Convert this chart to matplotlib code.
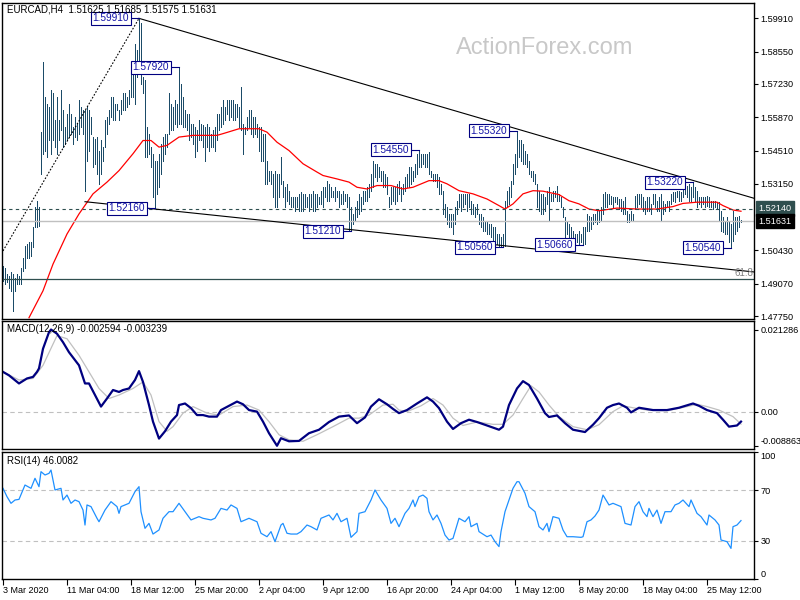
"""EURCAD H4 chart with MACD and RSI panels, MT4 style."""
import matplotlib
matplotlib.use("Agg")
import matplotlib.pyplot as plt
from matplotlib import transforms

plt.rcParams["font.family"] = ["Liberation Sans", "DejaVu Sans"]

COLORS = {
    "bar": "#1B4B68",
    "ma": "#FF0000",
    "label_edge": "#000080",
    "label_text": "#1414A8",
    "slate": "#2F4F4F",
    "silver": "#C0C0C0",
    "macd": "#000080",
    "rsi": "#1E90FF",
    "watermark": "#C8C8C8",
}

# ---- price bars, index 0 = 3 Mar 2020 20:00, one bar per 4 hours ----
highs = [
    1.4980, 1.4973, 1.4946, 1.4939, 1.4953, 1.4946, 1.4932, 1.4946, 1.4939, 1.4973,
    1.5014, 1.5062, 1.5069, 1.5076, 1.5076, 1.5137, 1.5219, 1.5246, 1.5219, 1.5526,
    1.5813, 1.5670, 1.5643, 1.5629, 1.5697, 1.5684, 1.5574, 1.5670, 1.5574, 1.5697,
    1.5615, 1.5547, 1.5602, 1.5643, 1.5602, 1.5547, 1.5588, 1.5561, 1.5656, 1.5629,
    1.5615, 1.5615, 1.5629, 1.5615, 1.5588, 1.5506, 1.5499, 1.5506, 1.5451, 1.5492,
    1.5465, 1.5574, 1.5588, 1.5615, 1.5670, 1.5670, 1.5643, 1.5643, 1.5615, 1.5656,
    1.5684, 1.5684, 1.5670, 1.5697, 1.5806, 1.5793, 1.5888, 1.5861, 1.5991, 1.5970,
    1.5752, 1.5738, 1.5547, 1.5520, 1.5465, 1.5438, 1.5410, 1.5410, 1.5438, 1.5479,
    1.5506, 1.5520, 1.5520, 1.5684, 1.5643, 1.5629, 1.5656, 1.5643, 1.5792, 1.5724,
    1.5670, 1.5615, 1.5602, 1.5602, 1.5561, 1.5561, 1.5547, 1.5533, 1.5574, 1.5561,
    1.5554, 1.5547, 1.5561, 1.5547, 1.5520, 1.5533, 1.5547, 1.5602, 1.5602, 1.5629,
    1.5656, 1.5629, 1.5656, 1.5656, 1.5656, 1.5656, 1.5643, 1.5643, 1.5629, 1.5711,
    1.5561, 1.5547, 1.5588, 1.5615, 1.5615, 1.5588, 1.5588, 1.5561, 1.5547, 1.5547,
    1.5520, 1.5520, 1.5410, 1.5369, 1.5369, 1.5356, 1.5369, 1.5356, 1.5356, 1.5424,
    1.5328, 1.5301, 1.5315, 1.5287, 1.5260, 1.5260, 1.5260, 1.5260, 1.5274, 1.5281,
    1.5274, 1.5274, 1.5260, 1.5274, 1.5274, 1.5287, 1.5274, 1.5274, 1.5260, 1.5287,
    1.5301, 1.5301, 1.5328, 1.5315, 1.5301, 1.5287, 1.5301, 1.5287, 1.5287, 1.5274,
    1.5287, 1.5274, 1.5274, 1.5260, 1.5219, 1.5192, 1.5219, 1.5246, 1.5274, 1.5260,
    1.5287, 1.5287, 1.5301, 1.5315, 1.5356, 1.5410, 1.5397, 1.5397, 1.5383, 1.5369,
    1.5369, 1.5356, 1.5342, 1.5260, 1.5301, 1.5301, 1.5301, 1.5315, 1.5328, 1.5301,
    1.5315, 1.5342, 1.5356, 1.5383, 1.5383, 1.5369, 1.5397, 1.5438, 1.5455, 1.5438,
    1.5438, 1.5438, 1.5438, 1.5445, 1.5369, 1.5356, 1.5356, 1.5356, 1.5342, 1.5315,
    1.5287, 1.5233, 1.5219, 1.5192, 1.5192, 1.5192, 1.5219, 1.5246, 1.5274, 1.5274,
    1.5274, 1.5274, 1.5274, 1.5274, 1.5246, 1.5233, 1.5219, 1.5233, 1.5192, 1.5192,
    1.5178, 1.5164, 1.5164, 1.5151, 1.5151, 1.5137, 1.5137, 1.5110, 1.5110, 1.5096,
    1.5110, 1.5246, 1.5287, 1.5301, 1.5328, 1.5397, 1.5438, 1.5532, 1.5492, 1.5492,
    1.5479, 1.5451, 1.5438, 1.5410, 1.5369, 1.5369, 1.5356, 1.5315, 1.5287, 1.5274,
    1.5274, 1.5260, 1.5287, 1.5301, 1.5274, 1.5287, 1.5287, 1.5308, 1.5274, 1.5260,
    1.5219, 1.5178, 1.5164, 1.5151, 1.5137, 1.5123, 1.5110, 1.5110, 1.5123, 1.5110,
    1.5137, 1.5137, 1.5192, 1.5185, 1.5178, 1.5192, 1.5192, 1.5205, 1.5205, 1.5219,
    1.5274, 1.5281, 1.5274, 1.5274, 1.5267, 1.5260, 1.5260, 1.5260, 1.5253, 1.5253,
    1.5246, 1.5260, 1.5205, 1.5192, 1.5205, 1.5192, 1.5267, 1.5274, 1.5274, 1.5274,
    1.5260, 1.5246, 1.5260, 1.5260, 1.5233, 1.5274, 1.5274, 1.5246, 1.5260, 1.5274,
    1.5246, 1.5233, 1.5246, 1.5246, 1.5274, 1.5281, 1.5281, 1.5287, 1.5287, 1.5281,
    1.5294, 1.5315, 1.5308, 1.5315, 1.5301, 1.5322, 1.5301, 1.5287, 1.5260, 1.5260,
    1.5260, 1.5260, 1.5267, 1.5260, 1.5246, 1.5246, 1.5246, 1.5240, 1.5240, 1.5205,
    1.5178, 1.5164, 1.5178, 1.5164, 1.5151, 1.5205, 1.5178, 1.5178, 1.5185, 1.51685,
]
lows = [
    1.4919, 1.4905, 1.4912, 1.4891, 1.4878, 1.4796, 1.4878, 1.4905, 1.4905, 1.4905,
    1.4959, 1.4973, 1.5014, 1.5014, 1.5021, 1.5055, 1.5137, 1.5137, 1.5144, 1.5356,
    1.5438, 1.5451, 1.5424, 1.5492, 1.5438, 1.5492, 1.5465, 1.5438, 1.5492, 1.5533,
    1.5465, 1.5479, 1.5492, 1.5506, 1.5520, 1.5479, 1.5506, 1.5492, 1.5520, 1.5547,
    1.5520, 1.5287, 1.5410, 1.5451, 1.5520, 1.5383, 1.5397, 1.5356, 1.5315, 1.5356,
    1.5410, 1.5465, 1.5520, 1.5561, 1.5588, 1.5574, 1.5574, 1.5615, 1.5574, 1.5602,
    1.5615, 1.5615, 1.5629, 1.5643, 1.5670, 1.5670, 1.5643, 1.5752, 1.5779, 1.5724,
    1.5684, 1.5424, 1.5424, 1.5438, 1.5383, 1.5260, 1.5216, 1.5274, 1.5301, 1.5356,
    1.5410, 1.5438, 1.5465, 1.5520, 1.5533, 1.5533, 1.5561, 1.5547, 1.5561, 1.5561,
    1.5547, 1.5547, 1.5533, 1.5492, 1.5506, 1.5479, 1.5424, 1.5451, 1.5492, 1.5492,
    1.5465, 1.5410, 1.5465, 1.5451, 1.5465, 1.5465, 1.5451, 1.5492, 1.5533, 1.5547,
    1.5561, 1.5574, 1.5602, 1.5574, 1.5588, 1.5574, 1.5574, 1.5588, 1.5547, 1.5533,
    1.5438, 1.5520, 1.5533, 1.5547, 1.5520, 1.5506, 1.5520, 1.5506, 1.5451, 1.5410,
    1.5410, 1.5315, 1.5315, 1.5328, 1.5315, 1.5260, 1.5219, 1.5219, 1.5260, 1.5315,
    1.5260, 1.5219, 1.5246, 1.5233, 1.5219, 1.5219, 1.5205, 1.5219, 1.5205, 1.5205,
    1.5205, 1.5219, 1.5219, 1.5205, 1.5219, 1.5205, 1.5205, 1.5219, 1.5233, 1.5233,
    1.5219, 1.5260, 1.5246, 1.5246, 1.5260, 1.5260, 1.5246, 1.5260, 1.5219, 1.5233,
    1.5233, 1.5246, 1.5219, 1.5123, 1.5121, 1.5151, 1.5164, 1.5178, 1.5192, 1.5205,
    1.5233, 1.5246, 1.5246, 1.5260, 1.5287, 1.5301, 1.5342, 1.5328, 1.5342, 1.5328,
    1.5301, 1.5301, 1.5274, 1.5219, 1.5233, 1.5246, 1.5233, 1.5246, 1.5274, 1.5246,
    1.5274, 1.5287, 1.5301, 1.5301, 1.5315, 1.5328, 1.5342, 1.5356, 1.5383, 1.5383,
    1.5397, 1.5383, 1.5383, 1.5356, 1.5342, 1.5328, 1.5328, 1.5301, 1.5274, 1.5274,
    1.5192, 1.5178, 1.5151, 1.5137, 1.5137, 1.5110, 1.5151, 1.5192, 1.5219, 1.5205,
    1.5219, 1.5233, 1.5205, 1.5219, 1.5192, 1.5192, 1.5178, 1.5192, 1.5151, 1.5137,
    1.5123, 1.5123, 1.5110, 1.5110, 1.5096, 1.5082, 1.5069, 1.5069, 1.5060, 1.5060,
    1.5056, 1.5060, 1.5219, 1.5233, 1.5260, 1.5315, 1.5356, 1.5383, 1.5424, 1.5410,
    1.5397, 1.5397, 1.5383, 1.5356, 1.5342, 1.5328, 1.5315, 1.5219, 1.5205, 1.5192,
    1.5192, 1.5205, 1.5233, 1.5164, 1.5246, 1.5246, 1.5260, 1.5246, 1.5246, 1.5219,
    1.5178, 1.5082, 1.5110, 1.5096, 1.5082, 1.5082, 1.5069, 1.5076, 1.5069, 1.5076,
    1.5066, 1.5069, 1.5123, 1.5123, 1.5130, 1.5151, 1.5158, 1.5151, 1.5158, 1.5164,
    1.5192, 1.5219, 1.5219, 1.5233, 1.5233, 1.5219, 1.5240, 1.5233, 1.5212, 1.5205,
    1.5192, 1.5192, 1.5158, 1.5158, 1.5164, 1.5164, 1.5212, 1.5219, 1.5233, 1.5219,
    1.5205, 1.5192, 1.5205, 1.5205, 1.5192, 1.5233, 1.5219, 1.5205, 1.5205, 1.5164,
    1.5192, 1.5205, 1.5219, 1.5205, 1.5233, 1.5246, 1.5240, 1.5260, 1.5246, 1.5246,
    1.5260, 1.5274, 1.5260, 1.5246, 1.5246, 1.5260, 1.5246, 1.5219, 1.5233, 1.5219,
    1.5233, 1.5219, 1.5226, 1.5219, 1.5219, 1.5212, 1.5219, 1.5212, 1.5164, 1.5123,
    1.5117, 1.5110, 1.5110, 1.5076, 1.5054, 1.5082, 1.5110, 1.5123, 1.5137, 1.51575,
]

# red moving average (bar index, price)
ma_idx = [13, 20, 25, 32, 38, 45, 52, 58, 65, 70, 74, 78, 82, 88, 95, 107, 110, 118,
          128, 132, 137, 143, 150, 157, 160, 167, 173, 177, 182, 187, 194, 200, 205,
          213, 218, 222, 228, 235, 242, 248, 251, 255, 260, 265, 270, 278, 283, 288,
          293, 298, 307, 317, 327, 335, 340, 347, 357, 360, 365, 369]
ma_val = [1.4768, 1.4878, 1.4987, 1.5110, 1.5192, 1.5274, 1.5322, 1.5369, 1.5438,
          1.5492, 1.5492, 1.5465, 1.5472, 1.5506, 1.5513, 1.5513, 1.5520, 1.5540,
          1.5540, 1.5526, 1.5485, 1.5451, 1.5397, 1.5363, 1.5349, 1.5335, 1.5322,
          1.5301, 1.5294, 1.5308, 1.5308, 1.5294, 1.5301, 1.5328, 1.5328, 1.5315,
          1.5287, 1.5274, 1.5253, 1.5226, 1.5212, 1.5233, 1.5274, 1.5287, 1.5285,
          1.5271, 1.5246, 1.5233, 1.5212, 1.5205, 1.5216, 1.5212, 1.5212, 1.5222,
          1.5235, 1.5240, 1.5240, 1.5226, 1.5208, 1.5203]

# labelled swing highs / lows (price, bar index)
swing_prices = [1.59910, 1.57920, 1.52160, 1.51210, 1.54550, 1.55320,
                1.50560, 1.50660, 1.53220, 1.50540]
swing_bars = [68, 88, 76, 174, 208, 257, 250, 290, 345, 364]

# MACD(12,26,9) main and signal
macd_idx = [0, 3, 8, 12, 15, 17, 18, 20, 23, 24, 27, 30, 33, 38, 41, 43, 46, 49, 52,
            55, 58, 60, 63, 66, 68, 70, 73, 75, 78, 81, 84, 87, 88, 91, 94, 97, 100,
            103, 107, 109, 113, 117, 120, 123, 127, 130, 133, 137, 139, 143, 148, 153,
            158, 163, 168, 173, 177, 181, 184, 188, 192, 195, 198, 202, 207, 212, 215,
            218, 222, 225, 229, 233, 237, 242, 248, 250, 253, 257, 260, 263, 267, 271,
            273, 277, 281, 285, 291, 295, 298, 302, 305, 308, 312, 314, 318, 325, 332,
            338, 345, 348, 352, 357, 360, 363, 367, 369]
macd_val = [0.0103, 0.0094, 0.0073, 0.0086, 0.0090, 0.0103, 0.0112, 0.0163, 0.0206,
            0.021286, 0.0202, 0.0180, 0.0154, 0.0120, 0.0073, 0.0073, 0.0043, 0.0013,
            0.0034, 0.0056, 0.0051, 0.0056, 0.0060, 0.0082, 0.0105, 0.0077, 0.0017,
            -0.0026, -0.0070, -0.0051, -0.0026, -0.0009, 0.0017, 0.0021, 0.0009,
            -0.0009, -0.0009, -0.0013, -0.0013, 0.0004, 0.0015, 0.0026, 0.0019, 0.0004,
            0.0000, -0.0026, -0.0056, -0.008863, -0.0069, -0.0077, -0.0076, -0.0056,
            -0.0047, -0.0027, -0.0013, -0.0010, -0.0030, -0.0015, 0.0013, 0.0032,
            0.0019, 0.0007, -0.0004, 0.0004, 0.0021, 0.0037, 0.0026, 0.0009, -0.0026,
            -0.0045, -0.0030, -0.0021, -0.0027, -0.0036, -0.0047, -0.0039, 0.0017,
            0.0060, 0.0079, 0.0069, 0.0034, -0.0004, -0.0014, -0.0010, -0.0030,
            -0.0047, -0.0053, -0.0034, -0.0017, 0.0010, 0.0017, 0.0021, 0.0010,
            -0.0002, 0.0010, 0.0004, 0.0004, 0.0010, 0.0021, 0.0015, 0.0004, -0.0004,
            -0.0021, -0.0039, -0.0036, -0.002594]
signal_idx = [0, 8, 15, 20, 27, 32, 38, 43, 48, 53, 58, 65, 70, 74, 78, 82, 85, 90, 95,
              102, 108, 115, 122, 128, 133, 138, 143, 150, 157, 165, 173, 178, 183, 190,
              195, 198, 202, 209, 215, 220, 225, 230, 237, 245, 250, 255, 260, 264, 268,
              273, 278, 285, 292, 298, 305, 310, 315, 322, 332, 342, 347, 352, 358, 365,
              369]
signal_val = [0.0103, 0.0082, 0.0086, 0.0120, 0.0197, 0.0189, 0.0146, 0.0103, 0.0060,
              0.0034, 0.0043, 0.0060, 0.0077, 0.0043, -0.0026, -0.0051, -0.0039,
              -0.0004, 0.0013, -0.0004, -0.0009, 0.0013, 0.0017, 0.0004, -0.0026,
              -0.0060, -0.0073, -0.0077, -0.0060, -0.0039, -0.0017, -0.0017, -0.0009,
              0.0017, 0.0019, 0.0004, 0.0000, 0.0015, 0.0034, 0.0017, -0.0017, -0.0036,
              -0.0027, -0.0033, -0.0033, -0.0009, 0.0034, 0.0067, 0.0051, 0.0017,
              -0.0013, -0.0039, -0.0047, -0.0034, 0.0000, 0.0015, 0.0010, 0.0004,
              0.0002, 0.0013, 0.0019, 0.0013, 0.0004, -0.0013, -0.003239]

# RSI(14)
rsi_idx = [0, 2, 4, 6, 8, 11, 14, 16, 18, 19, 21, 23, 24, 26, 29, 30, 32, 34, 36, 38,
           40, 41, 42, 44, 47, 48, 51, 54, 57, 58, 59, 63, 66, 68, 69, 71, 73, 75, 78,
           80, 83, 85, 88, 91, 94, 98, 100, 104, 106, 109, 112, 114, 117, 119, 123,
           127, 129, 132, 134, 136, 139, 140, 142, 144, 147, 149, 152, 154, 157, 159,
           163, 165, 167, 169, 172, 174, 177, 178, 181, 184, 186, 189, 192, 194, 196,
           198, 201, 203, 205, 206, 208, 210, 212, 213, 215, 217, 219, 221, 223, 225,
           228, 231, 233, 234, 237, 238, 242, 244, 246, 248, 249, 251, 253, 255, 257,
           258, 261, 263, 266, 268, 270, 272, 273, 275, 278, 280, 282, 285, 289, 290,
           292, 294, 296, 298, 300, 303, 305, 309, 311, 314, 316, 318, 320, 322, 323,
           325, 327, 329, 331, 334, 336, 338, 340, 343, 344, 347, 349, 352, 353, 356,
           358, 359, 362, 364, 365, 367, 369]
rsi_val = [71.4, 64.8, 59.6, 62.2, 62.7, 74.0, 71.4, 79.3, 72.7, 84.5, 81.9, 83.2, 85.8,
           70.1, 71.4, 62.2, 66.1, 59.6, 62.2, 60.9, 54.3, 42.5, 58.3, 57.0, 47.8, 45.1,
           54.3, 60.9, 57.0, 51.7, 57.0, 59.6, 68.8, 72.7, 53.0, 39.9, 43.8, 35.4, 38.6,
           47.8, 53.0, 53.0, 59.6, 53.0, 46.5, 49.1, 47.8, 46.5, 47.8, 55.6, 54.3, 58.3,
           55.6, 45.1, 47.8, 45.1, 36.0, 33.3, 37.3, 29.4, 42.5, 43.8, 36.0, 35.4, 35.4,
           37.3, 42.5, 41.2, 38.6, 47.8, 50.4, 46.5, 51.7, 45.1, 47.8, 32.8, 37.3, 51.7,
           53.0, 62.2, 70.1, 62.2, 55.6, 43.8, 47.8, 41.2, 51.7, 55.6, 62.2, 57.0, 64.8,
           66.1, 63.5, 53.0, 46.5, 50.4, 43.8, 34.6, 30.7, 32.0, 47.8, 45.1, 49.1, 41.2,
           43.8, 37.3, 33.3, 34.6, 29.4, 25.5, 37.3, 53.0, 62.2, 71.4, 76.6, 76.6, 67.5,
           57.0, 53.0, 41.2, 38.6, 43.8, 37.3, 49.1, 47.8, 38.6, 33.3, 33.3, 32.8, 33.3,
           45.1, 46.5, 49.6, 54.3, 66.1, 58.3, 59.6, 57.0, 43.8, 42.5, 57.0, 60.9, 53.0,
           49.1, 55.6, 49.1, 54.3, 43.8, 53.0, 53.0, 58.3, 59.6, 62.2, 57.0, 62.2, 51.7,
           49.1, 42.5, 50.4, 46.5, 42.5, 30.7, 29.4, 24.1, 41.2, 42.5, 46.0]

price_ticks = [1.59910, 1.58550, 1.57230, 1.55870, 1.54510, 1.53150,
               1.50430, 1.49070, 1.47750]
date_idx = [0, 32, 64, 96, 128, 160, 192, 224, 256, 288, 320, 352]
date_labels = ["3 Mar 2020", "11 Mar 04:00", "18 Mar 12:00", "25 Mar 20:00",
               "2 Apr 04:00", "9 Apr 12:00", "16 Apr 20:00", "24 Apr 04:00",
               "1 May 12:00", "8 May 20:00", "18 May 04:00", "25 May 12:00"]

bid_level = 1.52140
last_close = 1.51631
fib_618 = 1.4928
upper_line = ([68, 375.5], [1.5991, 1.5256])
lower_line = ([41, 375.5], [1.5242, 1.4955])
fib_diag = ([0, 68], [1.5041, 1.5991])

W, H = 800, 600
AXIS_FS = 6.6
fig = plt.figure(figsize=(8, 6), dpi=100)
fig.patch.set_facecolor("white")


def px_axes(left, top, right, bottom):
    return fig.add_axes([left / W, 1 - bottom / H, (right - left) / W, (bottom - top) / H])


ax_p = px_axes(2, 3, 754, 319)
ax_m = px_axes(2, 321, 754, 449)
ax_r = px_axes(2, 452, 754, 579)

for ax in (ax_p, ax_m, ax_r):
    ax.set_xlim(-0.5, 375.5)
    for sp in ax.spines.values():
        sp.set_linewidth(1.0)
        sp.set_color("black")
    ax.yaxis.tick_right()
    ax.tick_params(axis="y", length=3, labelsize=AXIS_FS, pad=1.5, colors="black")
    ax.tick_params(axis="x", bottom=False, labelbottom=False)

# ---- price panel ----
ax_p.set_ylim(1.47628, 1.60537)
ax_p.vlines(range(len(highs)), lows, highs, color=COLORS["bar"], lw=0.6,
            antialiased=False)
ax_p.plot(ma_idx, ma_val, color=COLORS["ma"], lw=0.9)
ax_p.axhline(bid_level, color=COLORS["slate"], lw=0.8, ls=(0, (3, 3)))
ax_p.axhline(last_close, color=COLORS["silver"], lw=1.0)
ax_p.axhline(fib_618, color=COLORS["slate"], lw=0.9)
ax_p.plot(*upper_line, color="black", lw=0.8)
ax_p.plot(*lower_line, color="black", lw=0.8)
ax_p.plot(*fib_diag, color="black", lw=0.8, ls=(0, (1.5, 1.5)))
ax_p.text(375, fib_618 + 0.0003, "61.8", ha="right", va="bottom", fontsize=7, color="#808080")

for price, bar in zip(swing_prices, swing_bars):
    ax_p.plot([bar - 5, bar], [price, price], color=COLORS["label_edge"], lw=0.8)
    ax_p.text(bar - 5, price, f"{price:.5f}", ha="right", va="center", fontsize=7.3,
              color=COLORS["label_text"],
              bbox=dict(boxstyle="square,pad=0.15", fc="white", ec=COLORS["label_edge"], lw=0.8))

ax_p.set_yticks(price_ticks)
ax_p.set_yticklabels([f"{v:.5f}" for v in price_ticks])
edge = transforms.blended_transform_factory(ax_p.transAxes, ax_p.transData)
ax_p.text(1.006, bid_level, f"{bid_level:.5f}", transform=edge, fontsize=AXIS_FS,
          color="white", va="center", ha="left", clip_on=False,
          bbox=dict(boxstyle="square,pad=0.3", fc=COLORS["slate"], ec=COLORS["slate"]))
ax_p.text(1.006, last_close, f"{last_close:.5f}", transform=edge, fontsize=AXIS_FS,
          color="white", va="center", ha="left", clip_on=False,
          bbox=dict(boxstyle="square,pad=0.3", fc="black", ec="black"))

# ---- MACD panel ----
ax_m.set_ylim(-0.0097, 0.0235)
ax_m.axhline(0, color=COLORS["silver"], lw=0.8, ls=(0, (4, 3)))
ax_m.plot(signal_idx, signal_val, color=COLORS["silver"], lw=0.9)
ax_m.plot(macd_idx, macd_val, color=COLORS["macd"], lw=1.6)
ax_m.set_yticks([0.021286, 0.0, -0.008863])
ax_m.set_yticklabels(["0.021286", "0.00", "-0.008863"])
mlabels = ax_m.get_yticklabels()
mlabels[2].set_verticalalignment("bottom")

# ---- RSI panel ----
ax_r.set_ylim(0, 100)
for lvl in (30, 70):
    ax_r.axhline(lvl, color=COLORS["silver"], lw=0.8, ls=(0, (4, 3)))
ax_r.plot(rsi_idx, rsi_val, color=COLORS["rsi"], lw=0.9)
ax_r.set_yticks([0, 30, 70, 100])
ax_r.set_yticklabels(["0", "30", "70", "100"])
rlabels = ax_r.get_yticklabels()
rlabels[0].set_verticalalignment("bottom")
rlabels[-1].set_verticalalignment("top")

ax_r.tick_params(axis="x", bottom=True, labelbottom=True, length=4, labelsize=6.5, pad=1)
ax_r.set_xticks(date_idx)
ax_r.set_xticklabels(date_labels)
for lab in ax_r.get_xticklabels():
    lab.set_horizontalalignment("left")

# ---- header texts ----
fig.text(7 / W, 1 - 10 / H, "EURCAD,H4  1.51625 1.51685 1.51575 1.51631",
         fontsize=7, va="center", ha="left")
fig.text(7 / W, 1 - 329 / H, "MACD(12,26,9) -0.002594 -0.003239",
         fontsize=7, va="center", ha="left")
fig.text(7 / W, 1 - 461 / H, "RSI(14) 46.0082", fontsize=7, va="center", ha="left")
fig.text(545 / W, 1 - 48 / H, "ActionForex.com", fontsize=17, color=COLORS["watermark"],
         va="center", ha="center")

fig.savefig("out.png", dpi=100, facecolor="white")
